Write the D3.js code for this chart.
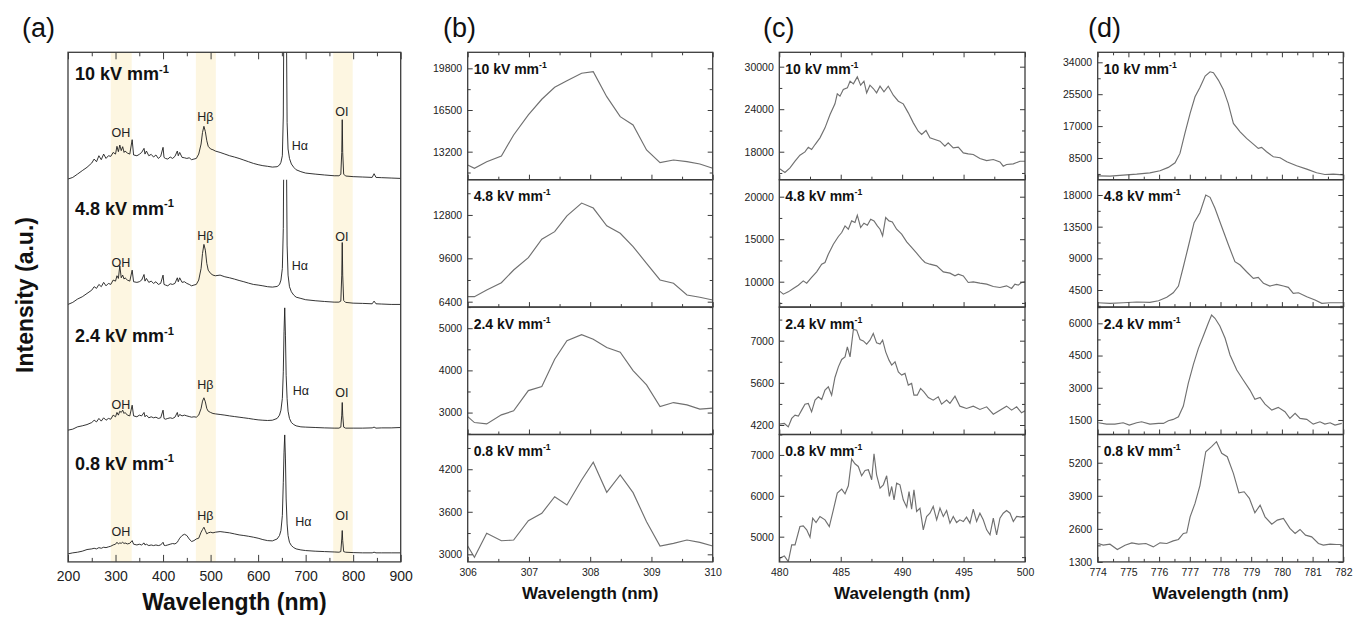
<!DOCTYPE html>
<html>
<head>
<meta charset="utf-8">
<script src="https://cdn.jsdelivr.net/npm/d3@7/dist/d3.min.js"></script>
<style>
  body { margin: 0; background: #fff; }
  svg { font-family: "Liberation Sans", Arial, sans-serif; }
</style>
</head>
<body>
<div id="chart"></div>
<script>
(function () {

  // ---- data ----
  var fields = ['10', '4.8', '2.4', '0.8']

  // (a) full spectra, arbitrary units per layer (0-1000)
  var surveyWl = [200, 210, 220, 230, 240, 250, 255, 260, 265, 270, 275, 280, 285, 290, 295, 300, 303, 306, 309, 312,
    315, 318, 320, 325, 330, 335, 338, 345, 350, 355, 360, 362, 365, 370, 375, 380, 385, 390, 395, 400,
    402, 405, 410, 415, 420, 425, 430, 432, 435, 440, 445, 450, 455, 460, 465, 470, 475, 480, 483, 486,
    489, 492, 495, 500, 505, 510, 520, 530, 540, 550, 560, 570, 580, 590, 600, 610, 620, 630, 640, 645,
    648, 651, 653, 654.5, 656, 657.5, 659, 661, 663, 666, 670, 675, 680, 690, 700, 720, 740, 760, 770, 774,
    776, 777, 778, 780, 784, 800, 820, 840, 844, 848, 860, 880, 900]

  var survey10 = [5, 18, 44, 71, 97, 131, 162, 141, 188, 157, 201, 167, 188, 183, 214, 201, 262, 220, 272, 228,
    259, 214, 225, 209, 201, 314, 194, 188, 199, 214, 246, 201, 225, 188, 199, 178, 194, 167, 183, 254,
    175, 167, 162, 178, 167, 183, 225, 188, 214, 175, 172, 167, 172, 157, 162, 167, 201, 280, 371, 419,
    377, 306, 262, 241, 235, 225, 214, 201, 188, 178, 167, 154, 141, 128, 118, 110, 105, 99, 102, 115,
    136, 188, 500, 1500, 2000, 1800, 1500, 450, 241, 167, 123, 97, 78, 63, 52, 44, 37, 31, 31, 42,
    214, 471, 214, 44, 29, 24, 21, 18, 47, 18, 16, 13, 10]

  var survey48 = [21, 37, 63, 81, 107, 133, 160, 147, 178, 160, 194, 167, 186, 178, 212, 204, 246, 225, 324, 230,
    251, 220, 230, 212, 204, 290, 199, 194, 199, 212, 256, 204, 225, 194, 204, 186, 199, 178, 186, 251,
    178, 173, 167, 183, 178, 186, 230, 199, 230, 194, 199, 186, 178, 167, 173, 178, 212, 303, 421, 492,
    447, 343, 290, 264, 251, 246, 251, 238, 230, 220, 209, 199, 188, 178, 173, 167, 160, 157, 162, 178,
    212, 303, 617, 1500, 2000, 1800, 1500, 487, 251, 160, 120, 94, 78, 68, 58, 50, 44, 39, 39, 47,
    251, 507, 251, 52, 37, 31, 29, 26, 47, 26, 24, 21, 21]

  var survey24 = [34, 42, 60, 68, 78, 94, 112, 99, 126, 105, 131, 112, 126, 120, 152, 139, 173, 152, 183, 173,
    191, 165, 173, 152, 146, 230, 146, 139, 152, 146, 173, 139, 152, 131, 139, 131, 136, 126, 131, 191,
    126, 120, 126, 131, 126, 136, 173, 139, 157, 146, 152, 146, 141, 136, 139, 136, 152, 204, 262, 288,
    256, 204, 183, 173, 165, 162, 157, 152, 146, 141, 136, 131, 126, 120, 115, 112, 110, 112, 126, 152,
    191, 283, 492, 806, 994, 780, 465, 283, 183, 126, 94, 78, 68, 60, 58, 55, 52, 50, 50, 58,
    152, 251, 152, 58, 50, 50, 50, 52, 58, 50, 52, 52, 55]

  var survey08 = [63, 71, 76, 84, 97, 102, 107, 102, 112, 107, 115, 112, 118, 123, 133, 139, 154, 141, 149, 146,
    154, 144, 149, 141, 146, 167, 139, 133, 139, 133, 149, 133, 139, 128, 133, 128, 133, 128, 133, 154,
    131, 128, 133, 139, 144, 141, 154, 167, 186, 207, 217, 207, 180, 160, 167, 180, 186, 233, 254, 272,
    246, 220, 228, 233, 228, 233, 238, 233, 228, 220, 212, 207, 201, 194, 186, 175, 167, 165, 180, 207,
    246, 364, 625, 861, 997, 808, 494, 298, 207, 154, 128, 112, 102, 94, 89, 84, 81, 78, 76, 81,
    180, 246, 167, 81, 76, 73, 71, 71, 76, 71, 71, 71, 71]

  var shadeBands = [[290, 334], [469, 511], [758, 799]]

  // peak annotations: [text, wavelength, a.u.]
  var peakLabels = [
    [['OH', 311.5, 364], ['Hβ', 489, 490], ['Hα', 688, 262], ['OI', 776, 529]],
    [['OH', 311.5, 344], ['Hβ', 489, 561], ['Hα', 688, 326], ['OI', 776, 553]],
    [['OH', 311.5, 229], ['Hβ', 489, 386], ['Hα', 690, 340], ['OI', 776, 329]],
    [['OH', 311.5, 232], ['Hβ', 489, 363], ['Hα', 695, 316], ['OI', 776, 358]]
  ]
  var aTicks = [200, 300, 400, 500, 600, 700, 800, 900]

  // (b) OH band
  var ohWl = [306.0, 306.11, 306.31, 306.55, 306.75, 306.99, 307.21, 307.42, 307.62, 307.86,
    308.05, 308.27, 308.49, 308.7, 308.92, 309.14, 309.36, 309.58, 309.79, 310.0]
  var oh10 = [12147, 11885, 12408, 12860, 14523, 16107, 17350, 18300, 18823, 19410,
    19536, 17556, 15972, 15314, 13335, 12329, 12543, 12408, 12226, 11885]
  var oh48 = [6769, 6769, 7263, 7802, 8739, 9647, 11005, 11566, 12737, 13675,
    13306, 11999, 11448, 10459, 9234, 8001, 7758, 6894, 6725, 6525]
  var oh24 = [2905, 2763, 2732, 2945, 3040, 3521, 3616, 4265, 4706, 4848,
    4739, 4540, 4431, 3995, 3656, 3142, 3237, 3182, 3081, 3104]
  var oh08 = [3117, 2958, 3297, 3192, 3202, 3474, 3579, 3813, 3696, 4049,
    4299, 3875, 4120, 3870, 3460, 3117, 3155, 3202, 3169, 3117]
  var bTicks = [306, 307, 308, 309, 310]
  var bYTicks = [[13200, 16500, 19800], [6400, 9600, 12800], [3000, 4000, 5000], [3000, 3600, 4200]]
  var bYDomains = [[10980, 21070], [6000, 15400], [2480, 5500], [2893, 4690]]

  // (c) H-beta band
  var hb10Wl = [480.0, 480.46, 480.87, 481.28, 481.68, 482.09, 482.36, 482.63, 482.91, 483.31, 483.72, 484.13, 484.53, 484.72,
    484.94, 485.21, 485.54, 485.76, 486.03, 486.35, 486.62, 486.89, 487.11, 487.38, 487.65, 487.92, 488.2, 488.52,
    488.87, 489.28, 489.69, 490.09, 490.5, 490.91, 491.31, 491.59, 491.94, 492.26, 492.67, 493.08, 493.48, 493.75,
    494.16, 494.57, 494.98, 495.38, 495.79, 496.33, 496.88, 497.42, 497.96, 498.23, 498.5, 499.05, 499.59, 500.0]
  var hb10 = [15641, 15076, 15717, 16659, 17506, 17977, 18636, 18306, 19012, 19954, 21366, 23248, 24754, 26166,
    25837, 26778, 27013, 27955, 27578, 28566, 27390, 27955, 26307, 27390, 26919, 26307, 27249, 26449,
    27249, 25978, 25131, 24754, 23483, 22071, 20895, 20424, 20989, 19954, 19718, 19483, 18777, 19248,
    18542, 18636, 17836, 17695, 17601, 17036, 16753, 16894, 16565, 15952, 16188, 16282, 16659, 16659]
  var hb48Wl = [480.0, 480.33, 480.73, 481.14, 481.55, 481.95, 482.23, 482.63, 483.04, 483.45, 483.72, 483.99, 484.4, 484.81,
    485.08, 485.35, 485.62, 485.89, 486.16, 486.35, 486.62, 486.89, 487.17, 487.44, 487.71, 487.98, 488.2, 488.41,
    488.66, 488.93, 489.2, 489.55, 489.96, 490.37, 490.77, 491.18, 491.59, 491.86, 492.26, 492.81, 493.35, 493.89,
    494.3, 494.57, 494.98, 495.38, 495.79, 496.33, 496.88, 497.42, 497.96, 498.5, 498.91, 499.18, 499.45, 499.72, 500.0]
  var hb48 = [8920, 8532, 8803, 9202, 9590, 10094, 9826, 10496, 11155, 12060, 12260, 13236, 14412, 15318,
    15788, 16564, 16176, 17152, 16964, 17822, 16376, 16882, 16646, 17352, 17152, 16564, 16176, 15388,
    17552, 17152, 17034, 16176, 15588, 14682, 14024, 13354, 12648, 12260, 12060, 11860, 11155, 11004,
    10684, 10884, 10684, 9908, 9983, 9826, 9708, 9438, 9320, 9509, 9202, 9708, 9590, 9908, 9983]
  var hb24Wl = [480.0, 480.41, 480.73, 481.01, 481.28, 481.55, 481.82, 482.09, 482.36, 482.63, 482.91, 483.18, 483.45, 483.72,
    483.99, 484.26, 484.53, 484.81, 485.08, 485.35, 485.54, 485.76, 486.03, 486.3, 486.57, 486.84, 487.11, 487.38,
    487.65, 487.92, 488.2, 488.41, 488.66, 488.93, 489.15, 489.42, 489.69, 489.96, 490.23, 490.5, 490.77, 490.96,
    491.23, 491.5, 491.77, 492.13, 492.53, 492.94, 493.21, 493.62, 493.89, 494.3, 494.7, 495.24, 495.79, 496.33,
    496.88, 497.42, 497.96, 498.5, 498.91, 499.32, 499.72, 500.0]
  var hb24 = [4229, 4252, 4139, 4418, 4528, 4494, 4694, 4893, 4916, 4637, 5026, 5135, 5049, 5358,
    5467, 5192, 5779, 6131, 6377, 6463, 6795, 6463, 7373, 7350, 7041, 6994, 6885, 7018,
    7240, 6928, 6885, 7018, 6629, 6354, 6188, 6297, 5965, 5856, 5912, 5524, 5580, 5192,
    5192, 5414, 5301, 5114, 5026, 5135, 4893, 5026, 4916, 5158, 4826, 4750, 4826, 4716,
    4804, 4561, 4694, 4826, 4694, 4804, 4604, 4670]
  var hb08Wl = [480.0, 480.41, 480.73, 481.01, 481.28, 481.68, 481.95, 482.23, 482.5, 482.72, 482.99, 483.31, 483.72, 484.07,
    484.4, 484.72, 485.08, 485.35, 485.62, 485.89, 486.16, 486.43, 486.7, 486.98, 487.25, 487.52, 487.71, 487.92,
    488.2, 488.47, 488.74, 488.96, 489.15, 489.34, 489.55, 489.82, 490.09, 490.37, 490.56, 490.77, 490.96, 491.18,
    491.45, 491.72, 491.99, 492.26, 492.53, 492.81, 493.08, 493.35, 493.62, 493.89, 494.16, 494.43, 494.7, 494.98,
    495.24, 495.52, 495.79, 496.06, 496.33, 496.6, 496.88, 497.15, 497.42, 497.69, 497.96, 498.23, 498.5, 498.78,
    499.05, 499.32, 499.72, 500.0]
  var hb08 = [4473, 4530, 4390, 4800, 4800, 5248, 5265, 5167, 4988, 5453, 5346, 5494, 5412, 5248,
    5657, 6066, 6164, 6049, 6245, 6899, 6784, 6718, 6490, 6620, 6637, 6392, 7029, 6514,
    6188, 6269, 6490, 5984, 6228, 5902, 6310, 6269, 5902, 5723, 6106, 5673, 6147, 5616,
    5698, 5167, 5494, 5575, 5739, 5412, 5698, 5494, 5640, 5331, 5494, 5346, 5412, 5371,
    5478, 5331, 5673, 5371, 5575, 5412, 5167, 5045, 5453, 5045, 5453, 5575, 5640, 5575,
    5371, 5494, 5478, 5494]
  var cTicks = [480, 485, 490, 495, 500]
  var cYTicks = [[18000, 24000, 30000], [10000, 15000, 20000], [4200, 5600, 7000], [5000, 6000, 7000]]
  var cYDomains = [[14050, 32030], [7010, 22000], [3885, 8115], [4383, 7500]]

  // (d) O I 777 nm triplet
  var oi10Wl = [774.0, 774.4, 774.83, 775.27, 775.7, 776.03, 776.3, 776.52, 776.68, 776.84, 777.01, 777.17, 777.33, 777.5,
    777.66, 777.77, 777.93, 778.09, 778.25, 778.42, 778.64, 778.85, 779.07, 779.23, 779.34, 779.5, 779.72, 779.94,
    780.16, 780.48, 780.81, 781.13, 781.4, 781.67, 782.0]
  var oi10 = [3755, 3675, 3942, 4208, 4554, 5087, 5993, 7220, 9725, 15055, 20385, 24809, 27313, 30325,
    31471, 31204, 29259, 26780, 23049, 17720, 15481, 13722, 12203, 11057, 11323, 10151, 8818, 8552,
    7486, 6420, 5541, 4554, 4101, 4208, 4022]
  var oi48Wl = [774.0, 774.4, 774.83, 775.27, 775.7, 775.98, 776.25, 776.46, 776.63, 776.79, 776.95, 777.14, 777.33, 777.52,
    777.66, 777.82, 778.04, 778.26, 778.47, 778.64, 778.85, 779.07, 779.23, 779.4, 779.61, 779.83, 780.05, 780.21,
    780.37, 780.54, 780.81, 781.08, 781.3, 781.57, 782.0]
  var oi48 = [2691, 2606, 2691, 2790, 2748, 2975, 3458, 4112, 5064, 7806, 10648, 14059, 15480, 17995,
    17668, 16105, 13490, 10890, 8517, 8048, 7096, 6158, 6300, 5448, 5064, 5305, 5064, 4879,
    4026, 4112, 3543, 3074, 2606, 2691, 2691]
  var oi24Wl = [774.02, 774.29, 774.56, 774.83, 775.03, 775.27, 775.43, 775.7, 775.98, 776.14, 776.3, 776.46, 776.63, 776.79,
    776.95, 777.12, 777.28, 777.44, 777.6, 777.71, 777.82, 777.98, 778.15, 778.31, 778.53, 778.74, 778.96, 779.12,
    779.29, 779.45, 779.67, 779.88, 780.1, 780.26, 780.43, 780.59, 780.81, 781.02, 781.24, 781.4, 781.57, 781.73, 781.95]
  var oi24 = [1369, 1308, 1308, 1369, 1262, 1369, 1416, 1308, 1341, 1341, 1462, 1527, 1649, 2147,
    3205, 4104, 4836, 5409, 6001, 6388, 6234, 5875, 5302, 4524, 3825, 3359, 2893, 2459,
    2553, 2240, 1961, 2087, 1882, 1574, 1807, 1574, 1527, 1308, 1416, 1308, 1369, 1262, 1341]
  var oi08Wl = [774.02, 774.18, 774.4, 774.64, 774.89, 775.11, 775.33, 775.57, 775.81, 776.03, 776.25, 776.46, 776.63, 776.79,
    776.9, 777.01, 777.17, 777.33, 777.52, 777.71, 777.87, 778.04, 778.22, 778.42, 778.6, 778.77, 778.94, 779.12,
    779.29, 779.45, 779.67, 779.85, 780.05, 780.26, 780.43, 780.59, 780.77, 780.97, 781.19, 781.35, 781.57, 781.78, 781.95]
  var oi08 = [2025, 1958, 1997, 1788, 1958, 2048, 1997, 2025, 1891, 2048, 2025, 2127, 2182, 2419,
    2442, 3073, 3600, 4300, 5634, 5831, 6028, 5571, 5437, 4783, 4018, 4058, 3798, 3230,
    3534, 3073, 2785, 2943, 3010, 2616, 2419, 2576, 2352, 2285, 2025, 1958, 1997, 1985, 1985]
  var dTicks = [774, 775, 776, 777, 778, 779, 780, 781, 782]
  var dYTicks = [[8500, 17000, 25500, 34000], [4500, 9000, 13500, 18000], [1500, 3000, 4500, 6000], [1300, 2600, 3900, 5200]]
  var dYDomains = [[2717, 36665], [2070, 20175], [824, 6755], [1300, 6310]]

  // ---- layout ----
  var top0 = 52.3, bandH = 127.4, bottom = top0 + 4 * bandH
  var frameColor = '#3c3c3c'
  var fmt = d3.format('d')

  var svg = d3.select('#chart').append('svg')
    .attr('width', 1353)
    .attr('height', 617)

  function minorOf (ticks, domain) {
    var step = ticks[1] - ticks[0], out = []
    for (var v = ticks[0] - step / 2; v <= domain[1]; v += step) {
      if (v >= domain[0]) out.push(v)
    }
    return out
  }

  function styleAxis (g, size) {
    g.select('.domain').remove()
    g.selectAll('.tick line').attr('stroke', frameColor)
    g.selectAll('.tick text').attr('fill', '#222').attr('font-size', size)
  }

  function fieldLabel (x, y, f, size) {
    var t = svg.append('text')
      .attr('x', x).attr('y', y)
      .attr('font-weight', 'bold')
      .attr('font-size', size)
      .attr('fill', '#111')
    t.append('tspan').text(f + ' kV mm')
    t.append('tspan').attr('dy', -size * 0.42).attr('font-size', size * 0.62).text('-1')
  }

  function panelLetter (x, s) {
    svg.append('text').attr('x', x).attr('y', 37)
      .attr('font-size', 27).attr('fill', '#111').text(s)
  }

  // ---- panel (a) ----
  var pa = {left: 68, right: 400.7}
  var xA = d3.scaleLinear().domain([200, 900]).range([pa.left, pa.right])

  svg.append('g').selectAll('rect')
    .data(shadeBands)
    .enter().append('rect')
    .attr('x', d => xA(d[0]))
    .attr('width', d => xA(d[1]) - xA(d[0]))
    .attr('y', top0)
    .attr('height', 4 * bandH)
    .attr('fill', '#fdf6e1')

  var surveys = [survey10, survey48, survey24, survey08]
  surveys.forEach(function (vals, i) {
    var t = top0 + i * bandH
    var y = d3.scaleLinear().domain([0, 1000]).range([t + bandH, t])
    svg.append('clipPath').attr('id', 'clipA' + i)
      .append('rect')
      .attr('x', pa.left).attr('y', t)
      .attr('width', pa.right - pa.left).attr('height', bandH)

    svg.append('path')
      .datum(d3.zip(surveyWl, vals))
      .attr('clip-path', 'url(#clipA' + i + ')')
      .attr('fill', 'none')
      .attr('stroke', '#1e1e1e')
      .attr('stroke-width', 0.9)
      .attr('d', d3.line().x(d => xA(d[0])).y(d => y(d[1])))

    svg.append('g').selectAll('text')
      .data(peakLabels[i])
      .enter().append('text')
      .attr('x', d => xA(d[1]))
      .attr('y', d => y(d[2]))
      .attr('text-anchor', 'middle')
      .attr('dominant-baseline', 'central')
      .attr('font-size', 12.5)
      .attr('fill', '#222')
      .text(d => d[0])

    fieldLabel(pa.left + 7, t + (i === 0 ? 28 : 35), fields[i], 18)
  })

  var aMinor = minorOf(aTicks, [200, 900])
  svg.append('g').attr('transform', 'translate(0,' + bottom + ')')
    .call(d3.axisBottom(xA).tickValues(aTicks).tickFormat(fmt).tickSize(-7).tickPadding(9))
    .call(g => styleAxis(g, 14))
  svg.append('g').attr('transform', 'translate(0,' + bottom + ')')
    .call(d3.axisBottom(xA).tickValues(aMinor).tickSize(-4).tickFormat(''))
    .call(g => styleAxis(g, 14))
  svg.append('g').attr('transform', 'translate(0,' + top0 + ')')
    .call(d3.axisTop(xA).tickValues(aTicks).tickSize(-7).tickFormat(''))
    .call(g => styleAxis(g, 14))
  svg.append('g').attr('transform', 'translate(0,' + top0 + ')')
    .call(d3.axisTop(xA).tickValues(aMinor).tickSize(-4).tickFormat(''))
    .call(g => styleAxis(g, 14))

  svg.append('rect')
    .attr('x', pa.left).attr('y', top0)
    .attr('width', pa.right - pa.left).attr('height', 4 * bandH)
    .attr('fill', 'none').attr('stroke', frameColor).attr('stroke-width', 1.3)

  svg.append('text')
    .attr('x', (pa.left + pa.right) / 2).attr('y', 610)
    .attr('text-anchor', 'middle')
    .attr('font-weight', 'bold').attr('font-size', 23).attr('fill', '#111')
    .text('Wavelength (nm)')

  svg.append('text')
    .attr('transform', 'translate(33,295) rotate(-90)')
    .attr('text-anchor', 'middle')
    .attr('font-weight', 'bold').attr('font-size', 23).attr('fill', '#111')
    .text('Intensity (a.u.)')

  panelLetter(22, '(a)')

  // ---- panels (b)-(d) ----
  function zoomPanel (p) {
    var x = d3.scaleLinear().domain(p.xDomain).range([p.left, p.right])
    var xMinor = minorOf(p.xTicks, p.xDomain)

    p.series.forEach(function (s, i) {
      var t = top0 + i * bandH, b = t + bandH
      var y = d3.scaleLinear().domain(p.yDomains[i]).range([b, t])
      var yMinor = minorOf(p.yTicks[i], p.yDomains[i])
      var id = 'clip' + p.name + i

      svg.append('clipPath').attr('id', id)
        .append('rect')
        .attr('x', p.left).attr('y', t)
        .attr('width', p.right - p.left).attr('height', bandH)

      svg.append('path')
        .datum(d3.zip(s[0], s[1]))
        .attr('clip-path', 'url(#' + id + ')')
        .attr('fill', 'none')
        .attr('stroke', '#707070')
        .attr('stroke-width', 1.15)
        .attr('d', d3.line().x(d => x(d[0])).y(d => y(d[1])))

      svg.append('g').attr('transform', 'translate(' + p.left + ',0)')
        .call(d3.axisLeft(y).tickValues(p.yTicks[i]).tickFormat(fmt).tickSize(-5).tickPadding(5.5))
        .call(g => styleAxis(g, 10.5))
      svg.append('g').attr('transform', 'translate(' + p.left + ',0)')
        .call(d3.axisLeft(y).tickValues(yMinor).tickSize(-3).tickFormat(''))
        .call(g => styleAxis(g, 10.5))
      svg.append('g').attr('transform', 'translate(' + p.right + ',0)')
        .call(d3.axisRight(y).tickValues(p.yTicks[i]).tickSize(-5).tickFormat(''))
        .call(g => styleAxis(g, 10.5))
      svg.append('g').attr('transform', 'translate(' + p.right + ',0)')
        .call(d3.axisRight(y).tickValues(yMinor).tickSize(-3).tickFormat(''))
        .call(g => styleAxis(g, 10.5))

      var xAxis = d3.axisBottom(x).tickValues(p.xTicks).tickSize(-5).tickPadding(7)
      xAxis.tickFormat(i < 3 ? '' : fmt)
      svg.append('g').attr('transform', 'translate(0,' + b + ')')
        .call(xAxis)
        .call(g => styleAxis(g, 10.5))
      svg.append('g').attr('transform', 'translate(0,' + b + ')')
        .call(d3.axisBottom(x).tickValues(xMinor).tickSize(-3).tickFormat(''))
        .call(g => styleAxis(g, 10.5))

      if (i === 0) {
        svg.append('g').attr('transform', 'translate(0,' + t + ')')
          .call(d3.axisTop(x).tickValues(p.xTicks).tickSize(-5).tickFormat(''))
          .call(g => styleAxis(g, 10.5))
        svg.append('g').attr('transform', 'translate(0,' + t + ')')
          .call(d3.axisTop(x).tickValues(xMinor).tickSize(-3).tickFormat(''))
          .call(g => styleAxis(g, 10.5))
      }

      svg.append('rect')
        .attr('x', p.left).attr('y', t)
        .attr('width', p.right - p.left).attr('height', bandH)
        .attr('fill', 'none').attr('stroke', frameColor).attr('stroke-width', 1.3)

      fieldLabel(p.left + 6, t + 21.5, fields[i], 14)
    })

    svg.append('text')
      .attr('x', (p.left + p.right) / 2).attr('y', 599)
      .attr('text-anchor', 'middle')
      .attr('font-weight', 'bold').attr('font-size', 17).attr('fill', '#111')
      .text('Wavelength (nm)')

    panelLetter(p.letterX, p.letter)
  }

  zoomPanel({
    name: 'b', letter: '(b)', letterX: 443,
    left: 467.7, right: 712.7, xDomain: [306, 310], xTicks: bTicks,
    yTicks: bYTicks, yDomains: bYDomains,
    series: [[ohWl, oh10], [ohWl, oh48], [ohWl, oh24], [ohWl, oh08]]
  })

  zoomPanel({
    name: 'c', letter: '(c)', letterX: 763,
    left: 779.3, right: 1025, xDomain: [480, 500], xTicks: cTicks,
    yTicks: cYTicks, yDomains: cYDomains,
    series: [[hb10Wl, hb10], [hb48Wl, hb48], [hb24Wl, hb24], [hb08Wl, hb08]]
  })

  zoomPanel({
    name: 'd', letter: '(d)', letterX: 1088,
    left: 1097.7, right: 1343.3, xDomain: [774, 782], xTicks: dTicks,
    yTicks: dYTicks, yDomains: dYDomains,
    series: [[oi10Wl, oi10], [oi48Wl, oi48], [oi24Wl, oi24], [oi08Wl, oi08]]
  })

})()
</script>
</body>
</html>
